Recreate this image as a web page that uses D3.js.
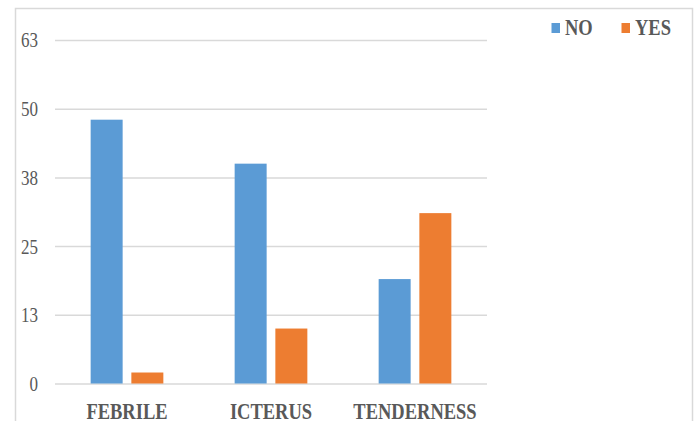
<!DOCTYPE html>
<html><head><meta charset="utf-8">
<script src="https://cdn.jsdelivr.net/npm/d3@7"></script>
<style>html,body{margin:0;padding:0;background:#fff;}svg{display:block;}</style>
</head><body><svg id="c" width="696" height="421"></svg>
<script>
const categories = ["FEBRILE", "ICTERUS", "TENDERNESS"];
const seriesNames = ["NO", "YES"];
const valuesNO = [48, 40, 19];
const valuesYES = [2, 10, 31];
const tickValues = [0, 12.5, 25, 37.5, 50, 62.5];
const tickLabels = ["0", "13", "25", "38", "50", "63"];
const colors = ["#5B9BD5", "#ED7D31"];

const svg = d3.select("#c");
const plotLeft = 55, plotRight = 487, plotTop = 40, plotBottom = 383.5;
const textColor = "#595959";
const font = "'Liberation Serif','Times New Roman',serif";

// outer border
svg.append("rect").attr("x", 15.5).attr("y", 8.5).attr("width", 677).attr("height", 430)
  .attr("fill", "none").attr("stroke", "#d9d9d9").attr("stroke-width", 1.5);

const y = d3.scaleLinear().domain([0, 62.5]).range([plotBottom, plotTop]);
const x0 = d3.scaleBand().domain(categories).range([plotLeft, plotRight]).padding(0);
const x1 = d3.scaleBand().domain(seriesNames).range([0, x0.bandwidth()]).paddingInner(0.214).paddingOuter(0.876);

// y axis with gridlines
const yAxis = d3.axisLeft(y).tickValues(tickValues)
  .tickFormat((d, i) => tickLabels[i]).tickSize(-(plotRight - plotLeft)).tickPadding(17);
const gy = svg.append("g").attr("transform", `translate(${plotLeft},0)`).call(yAxis);
gy.select(".domain").remove();
gy.selectAll(".tick line").attr("stroke", "#d9d9d9").attr("stroke-width", 1.5);
gy.selectAll(".tick text").attr("fill", textColor).attr("font-family", font)
  .attr("font-size", 17).attr("transform", "scale(1,1.28)").attr("dy", "0.32em");

// bars
const data = categories.map((c, i) => ({cat: c, vals: [valuesNO[i], valuesYES[i]]}));
const groups = svg.append("g").selectAll("g").data(data).join("g")
  .attr("transform", d => `translate(${x0(d.cat)},0)`);
groups.selectAll("rect").data(d => d.vals.map((v, j) => ({name: seriesNames[j], v, j})))
  .join("rect")
  .attr("x", d => x1(d.name)).attr("width", x1.bandwidth())
  .attr("y", d => y(d.v)).attr("height", d => y(0) - y(d.v))
  .attr("fill", d => colors[d.j]);

// x axis labels
const xAxis = d3.axisBottom(x0).tickSize(0).tickPadding(0);
const gx = svg.append("g").attr("transform", `translate(0,${plotBottom})`).call(xAxis);
gx.select(".domain").remove();
gx.selectAll(".tick text").attr("fill", textColor).attr("font-family", font)
  .attr("font-weight", "bold").attr("font-size", 18.5).attr("dy", 0).attr("y", 28.6)
  .attr("transform", "scale(1,1.24)");

// legend
const legendX = [551.5, 621.5];
const lg = svg.append("g").selectAll("g").data(seriesNames).join("g")
  .attr("transform", (d, i) => `translate(${legendX[i]},0)`);
lg.append("rect").attr("x", 0).attr("y", 23).attr("width", 8.5).attr("height", 10)
  .attr("fill", (d, i) => colors[i]);
lg.append("text").text(d => d).attr("x", 13.5).attr("y", 35 / 1.24)
  .attr("transform", "scale(1,1.24)")
  .attr("fill", textColor).attr("font-family", font).attr("font-weight", "bold").attr("font-size", 18.5);
</script></body></html>
